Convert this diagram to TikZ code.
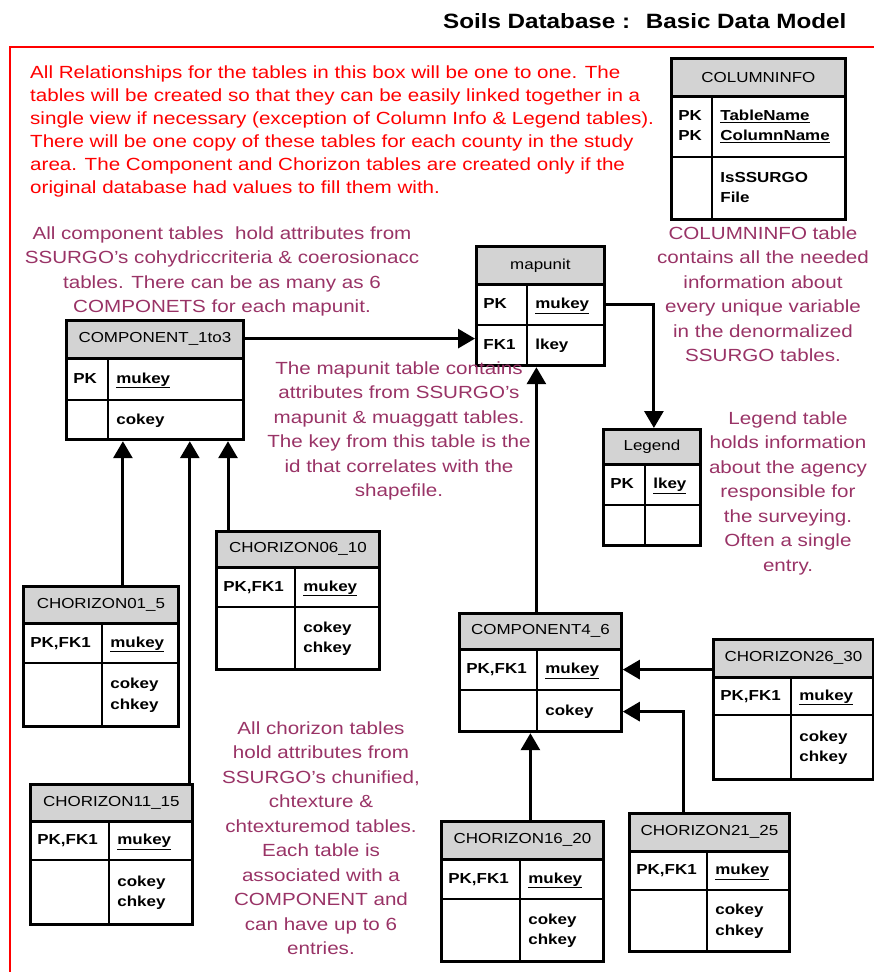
\documentclass[tikz,border=0pt]{standalone}
\usepackage{fontspec}
\setmainfont{Liberation Sans}[FakeStretch=1.17]
\usepackage{tikz}
\usetikzlibrary{shapes.multipart,calc}
\usetikzlibrary{arrows.meta}
\definecolor{notered}{HTML}{FF0000}
\definecolor{noteplum}{HTML}{993366}
\definecolor{headgray}{HTML}{D3D3D3}

% header and key rows of a table
\newcommand{\tabhead}[3]{\parbox[c][#1][c]{#2}{\centering #3}}
\newcommand{\tabrow}[5]{\parbox[c][#1][c]{#2}{\bfseries\makebox[#3][l]{\hspace{7pt}\begin{tabular}[c]{@{}l@{}}#4\end{tabular}}\hspace{7pt}\begin{tabular}[c]{@{}l@{}}#5\end{tabular}}}

\begin{document}
\begin{tikzpicture}[x=1pt,y=-1pt,
  dbtable/.style={draw, line width=2.8pt, anchor=north west, rectangle split, rectangle split parts=3,
    rectangle split part fill={headgray,white,white}, inner sep=0pt, font=\fontsize{14.5}{20.5}\selectfont},
  rule/.style={line width=2.8pt},
  link/.style={line width=3pt, -{Triangle[length=17pt,width=19pt]}},
  note/.style={align=center, anchor=north, text=noteplum, inner sep=0pt, font=\fontsize{17.6}{24.5}\selectfont}
  ]
  \useasboundingbox (0,0) rectangle (874,972);

  \node[anchor=base east, font=\bfseries\fontsize{20.7}{24}\selectfont] (title) at (850,28) {Soils Database :~ Basic Data Model};
  \draw[notered, line width=2.5pt] (10,1000) -- (10,47) -- (900,47);

  \node[align=left, anchor=north west, text=notered, inner sep=0pt, font=\fontsize{17.6}{23}\selectfont] (intro) at (30,65.5) {
        All Relationships for the tables in this box will be one to one. The\\
        tables will be created so that they can be easily linked together in a\\
        single view if necessary (exception of Column Info \& Legend tables).\\
        There will be one copy of these tables for each county in the study\\
        area. The Component and Chorizon tables are created only if the\\
        original database had values to fill them with.};

  % tables
  \node[dbtable] (colinfo) at (670,57) {\tabhead{35pt}{174pt}{COLUMNINFO}%
    \nodepart{two}\tabrow{58pt}{174pt}{42pt}{PK\\PK}{\underline{TableName}\\\underline{ColumnName}}%
    \nodepart{three}\tabrow{60pt}{174pt}{42pt}{}{IsSSURGO\\File}};
  \node[dbtable] (mapunit) at (475,245) {\tabhead{35pt}{128pt}{mapunit}%
    \nodepart{two}\tabrow{38pt}{128pt}{52pt}{PK}{\underline{mukey}}%
    \nodepart{three}\tabrow{38pt}{128pt}{52pt}{FK1}{lkey}};
  \node[dbtable] (c13) at (65,319) {\tabhead{35pt}{177pt}{COMPONENT\_1to3}%
    \nodepart{two}\tabrow{39pt}{177pt}{43pt}{PK}{\underline{mukey}}%
    \nodepart{three}\tabrow{37pt}{177pt}{43pt}{}{cokey}};
  \node[dbtable] (legend) at (602,428) {\tabhead{32pt}{97pt}{Legend}%
    \nodepart{two}\tabrow{38pt}{97pt}{43pt}{PK}{\underline{lkey}}%
    \nodepart{three}\tabrow{38pt}{97pt}{43pt}{}{}};
  \node[dbtable] (c0610) at (215,530) {\tabhead{33pt}{163pt}{CHORIZON06\_10}%
    \nodepart{two}\tabrow{37pt}{163pt}{80pt}{PK,FK1}{\underline{mukey}}%
    \nodepart{three}\tabrow{60pt}{163pt}{80pt}{}{cokey\\chkey}};
  \node[dbtable] (c015) at (22,585) {\tabhead{34pt}{155pt}{CHORIZON01\_5}%
    \nodepart{two}\tabrow{37pt}{155pt}{80pt}{PK,FK1}{\underline{mukey}}%
    \nodepart{three}\tabrow{61pt}{155pt}{80pt}{}{cokey\\chkey}};
  \node[dbtable] (c1115) at (29,783) {\tabhead{34pt}{162pt}{CHORIZON11\_15}%
    \nodepart{two}\tabrow{36pt}{162pt}{80pt}{PK,FK1}{\underline{mukey}}%
    \nodepart{three}\tabrow{62pt}{162pt}{80pt}{}{cokey\\chkey}};
  \node[dbtable] (c46) at (458,612) {\tabhead{33pt}{162pt}{COMPONENT4\_6}%
    \nodepart{two}\tabrow{38pt}{162pt}{79pt}{PK,FK1}{\underline{mukey}}%
    \nodepart{three}\tabrow{39pt}{162pt}{79pt}{}{cokey}};
  \node[dbtable] (c2630) at (712,638) {\tabhead{35pt}{160pt}{CHORIZON26\_30}%
    \nodepart{two}\tabrow{35pt}{160pt}{79pt}{PK,FK1}{\underline{mukey}}%
    \nodepart{three}\tabrow{62pt}{160pt}{79pt}{}{cokey\\chkey}};
  \node[dbtable] (c1620) at (440,820) {\tabhead{35pt}{162pt}{CHORIZON16\_20}%
    \nodepart{two}\tabrow{37pt}{162pt}{80pt}{PK,FK1}{\underline{mukey}}%
    \nodepart{three}\tabrow{60pt}{162pt}{80pt}{}{cokey\\chkey}};
  \node[dbtable] (c2125) at (628,812) {\tabhead{35pt}{160pt}{CHORIZON21\_25}%
    \nodepart{two}\tabrow{36pt}{160pt}{79pt}{PK,FK1}{\underline{mukey}}%
    \nodepart{three}\tabrow{59pt}{160pt}{79pt}{}{cokey\\chkey}};

  \foreach \t/\k in {colinfo/42,mapunit/52,c13/43,legend/43,c0610/80,c015/80,c1115/80,c46/79,c2630/79,c1620/80,c2125/79}
    \draw[rule] ([xshift=\k pt]\t.one split west) -- ([xshift=\k pt]\t.south west);

  % notes
  \node[note] (compnote) at (222,226.5) {All component tables~ hold attributes from\\
        SSURGO's cohydriccriteria \& coerosionacc\\
        tables. There can be as many as 6\\
        COMPONETS for each mapunit.};
  \node[note] (mapnote) at (399,361.5) {The mapunit table contains\\
        attributes from SSURGO's\\
        mapunit \& muaggatt tables.\\
        The key from this table is the\\
        id that correlates with the\\
        shapefile.};
  \node[note] (colnote) at (763,226.5) {COLUMNINFO table\\
        contains all the needed\\
        information about\\
        every unique variable\\
        in the denormalized\\
        SSURGO tables.};
  \node[note] (legnote) at (788,411.5) {Legend table\\
        holds information\\
        about the agency\\
        responsible for\\
        the surveying.\\
        Often a single\\
        entry.};
  \node[note] (hornote) at (321,721.5) {All chorizon tables\\
        hold attributes from\\
        SSURGO's chunified,\\
        chtexture \&\\
        chtexturemod tables.\\
        Each table is\\
        associated with a\\
        COMPONENT and\\
        can have up to 6\\
        entries.};

  % relationships
  \coordinate (mapunit-r1) at ($(mapunit.one split east)!.5!(mapunit.two split east)$);
  \coordinate (c46-r1) at ($(c46.one split east)!.5!(c46.two split east)$);
  \coordinate (c46-r2) at ($(c46.two split east)!.5!(c46.south east)$);
  \draw[link] ($(c13.north east)!.5!(c13.one split east)$) coordinate (c13-h) -- (c13-h -| mapunit.west);
  \draw[link] (mapunit-r1) -| ([xshift=2pt]legend.north);
  \draw[link] ([xshift=-4pt]c46.north) coordinate (c46-up) -- (c46-up |- mapunit.south);
  \draw[link] (c46-r1 -| c2630.west) -- (c46-r1);
  \draw[link] ([xshift=-26pt]c2125.north) |- (c46-r2);
  \draw[link] ([xshift=8pt]c1620.north) coordinate (c1620-up) -- (c1620-up |- c46.south);
  \draw[link] ([xshift=22pt]c015.north) coordinate (c015-up) -- (c015-up |- c13.south);
  \draw[link] ([xshift=-4pt]c1115.north east) coordinate (c1115-up) -- (c1115-up |- c13.south);
  \draw[link] ([xshift=13pt]c0610.north west) coordinate (c0610-up) -- (c0610-up |- c13.south);

\end{tikzpicture}
\end{document}
